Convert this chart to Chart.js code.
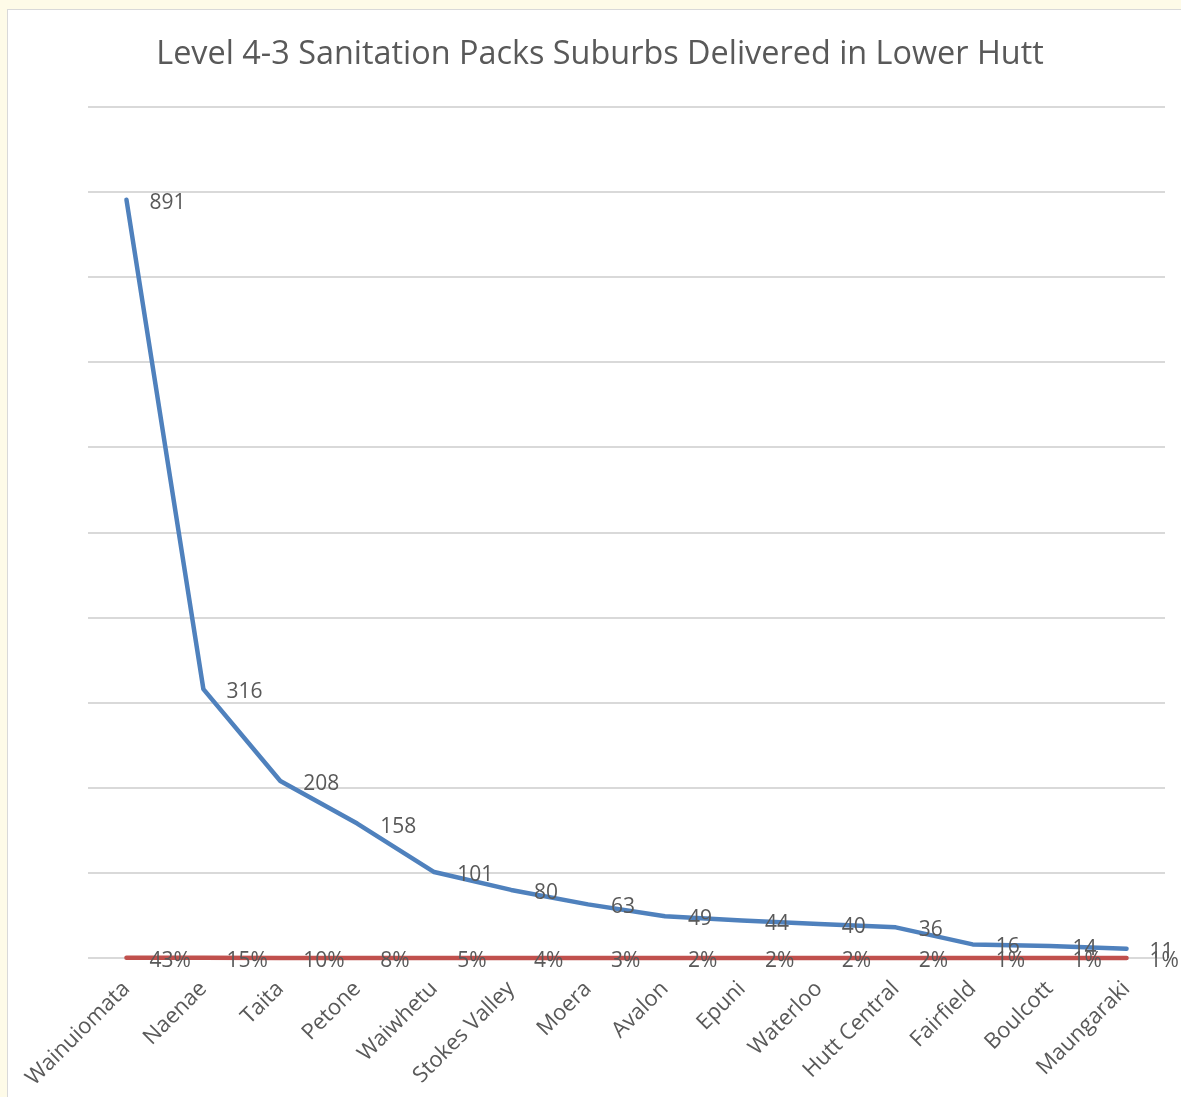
<!DOCTYPE html>
<html>
<head>
<meta charset="utf-8">
<script src="https://cdn.jsdelivr.net/npm/chart.js@4/dist/chart.umd.min.js"></script>
<style>
  html, body { margin: 0; padding: 0; background: #fefbe8; overflow: hidden; }
  #box {
    position: absolute; left: 7px; top: 9px;
    width: 1180px; height: 1100px;
    background: #fff; border: 1px solid #d9d9d9;
  }
  #chart { display: block; }
</style>
</head>
<body>
<div id="box"><canvas id="chart" width="1180" height="1087"></canvas></div>
<script>
// suburbs along the x axis
const suburbs = ['Wainuiomata', 'Naenae', 'Taita', 'Petone', 'Waiwhetu', 'Stokes Valley', 'Moera',
  'Avalon', 'Epuni', 'Waterloo', 'Hutt Central', 'Fairfield', 'Boulcott', 'Maungaraki'];
// packs delivered per suburb
const packs = [891, 316, 208, 158, 101, 80, 63, 49, 44, 40, 36, 16, 14, 11];
// share of total (as shown by the red labels)
const shares = [0.43, 0.15, 0.10, 0.08, 0.05, 0.04, 0.03, 0.02, 0.02, 0.02, 0.02, 0.01, 0.01, 0.01];

const textColor = '#595959';
const fontFamily = '"Open Sans", "Liberation Sans", sans-serif';

// simple label drawer, right of each point
const pointLabels = {
  id: 'pointLabels',
  afterDatasetsDraw(chart) {
    const ctx = chart.ctx;
    ctx.save();
    ctx.font = '21px ' + fontFamily;
    ctx.fillStyle = textColor;
    ctx.textAlign = 'left';
    ctx.textBaseline = 'middle';
    chart.data.datasets.forEach((ds, i) => {
      const meta = chart.getDatasetMeta(i);
      meta.data.forEach((pt, j) => {
        const v = ds.data[j];
        const txt = ds.isShare ? Math.round(v * 100) + '%' : String(v);
        ctx.fillText(txt, pt.x + 23, pt.y + 3);
      });
    });
    ctx.restore();
  }
};

new Chart(document.getElementById('chart'), {
  type: 'line',
  data: {
    labels: suburbs,
    datasets: [{
      label: 'Packs',
      data: packs,
      borderColor: '#4f81bd',
      borderWidth: 4.5,
      borderCapStyle: 'round',
      borderJoinStyle: 'round',
      pointRadius: 0,
      tension: 0,
      clip: false
    }, {
      label: 'Share',
      data: shares,
      isShare: true,
      borderColor: '#c0504d',
      borderWidth: 4.5,
      borderCapStyle: 'round',
      pointRadius: 0,
      tension: 0,
      clip: false
    }]
  },
  options: {
    responsive: false,
    animation: false,
    layout: { padding: { left: 27, right: 23, top: 25, bottom: 0 } },
    plugins: {
      legend: { display: false },
      tooltip: { enabled: false },
      title: {
        display: true,
        text: 'Level 4-3 Sanitation Packs Suburbs Delivered in Lower Hutt',
        color: textColor,
        font: { family: fontFamily, size: 32.4, weight: 'normal', lineHeight: 1.25 },
        padding: { top: 0, bottom: 31.5 }
      }
    },
    scales: {
      x: {
        offset: true,
        grid: { display: false },
        border: { display: false },
        ticks: {
          color: textColor,
          font: { family: fontFamily, size: 22 },
          maxRotation: 45,
          minRotation: 45,
          autoSkip: false,
          padding: 10
        },
        afterFit(scale) { scale.height = 139; }
      },
      y: {
        min: 0,
        max: 1000,
        ticks: { display: false, stepSize: 100 },
        grid: { color: '#d9d9d9', lineWidth: 2, drawTicks: false },
        border: { display: false },
        afterFit(scale) { scale.width = 53; }
      }
    }
  },
  plugins: [pointLabels]
});
</script>
</body>
</html>
